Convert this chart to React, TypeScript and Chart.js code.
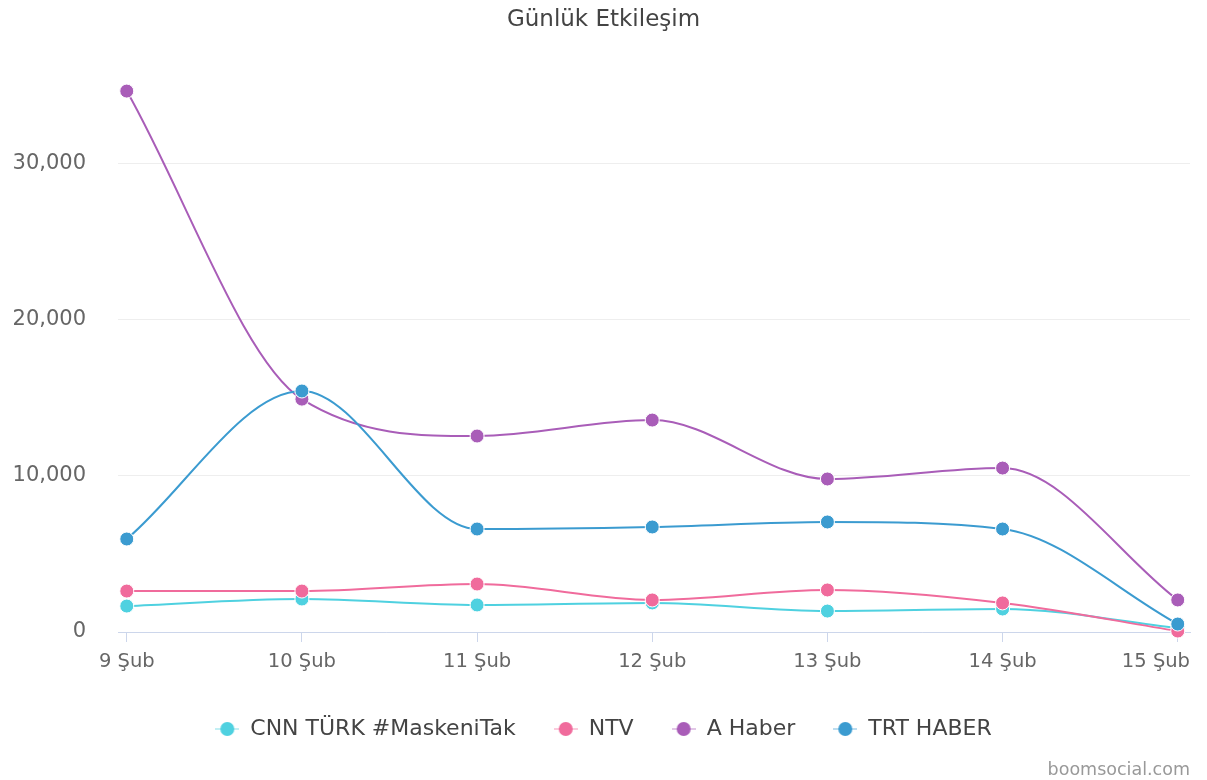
import React, { useEffect, useRef } from "react";
import { Chart, registerables } from "chart.js";

Chart.register(...registerables);

const categories = ["9 Şub", "10 Şub", "11 Şub", "12 Şub", "13 Şub", "14 Şub", "15 Şub"];
const seriesNames = ["CNN TÜRK #MaskeniTak", "NTV", "A Haber", "TRT HABER"];
const cnnTurk = [1660, 2110, 1730, 1860, 1340, 1470, 250];
const ntv = [2620, 2620, 3070, 2050, 2690, 1860, 60];
const aHaber = [34610, 14900, 12540, 13560, 9790, 10490, 2050];
const trtHaber = [5950, 15420, 6590, 6720, 7040, 6590, 510];
const yTicks = [0, 10000, 20000, 30000];
const seriesColors = ["#4fd1e0", "#f06b9c", "#a95db8", "#3b9bd0"];
const title = "Günlük Etkileşim";
const credit = "boomsocial.com";

const FONT = '"DejaVu Sans", sans-serif';

function makeLegendSymbol(color: string): HTMLCanvasElement {
  const c = document.createElement("canvas");
  c.width = 24;
  c.height = 16;
  const ctx = c.getContext("2d")!;
  ctx.strokeStyle = color;
  ctx.globalAlpha = 0.35;
  ctx.lineWidth = 2;
  ctx.beginPath();
  ctx.moveTo(0, 8);
  ctx.lineTo(24, 8);
  ctx.stroke();
  ctx.globalAlpha = 1;
  ctx.fillStyle = color;
  ctx.beginPath();
  ctx.arc(12, 8, 7, 0, Math.PI * 2);
  ctx.fill();
  return c;
}

export default function App() {
  const canvasRef = useRef<HTMLCanvasElement | null>(null);

  useEffect(() => {
    const canvas = canvasRef.current;
    if (!canvas) return;
    const allValues = [cnnTurk, ntv, aHaber, trtHaber];
    const drawOrder = [3, 2, 1, 0];
    const symbols = seriesColors.map((c) => makeLegendSymbol(c));

    const datasets = allValues.map((vals, si) => ({
      label: seriesNames[si],
      data: vals.map((v, i) => ({ x: i, y: v })),
      borderColor: seriesColors[si],
      backgroundColor: seriesColors[si],
      pointBackgroundColor: seriesColors[si],
      pointBorderColor: "#ffffff",
      pointBorderWidth: 1,
      pointRadius: 7,
      borderWidth: 2,
      cubicInterpolationMode: "monotone",
      fill: false,
      clip: false as any,
      order: drawOrder[si],
    }));

    const xLabelsPlugin = {
      id: "xLabels",
      afterDraw(chart: any) {
        const ctx = chart.ctx;
        const xs = chart.scales.x;
        const area = chart.chartArea;
        ctx.save();
        ctx.font = `19.5px ${FONT}`;
        ctx.fillStyle = "#666666";
        ctx.textAlign = "left";
        ctx.textBaseline = "middle";
        categories.forEach((lab, i) => {
          const px = xs.getPixelForValue(i);
          const w = ctx.measureText(lab).width;
          let x = px - w / 2;
          if (x + w > area.right) x = area.right - w;
          if (x < 0) x = 0;
          ctx.fillText(lab, x, xs.top + 30);
        });
        ctx.font = `17.5px ${FONT}`;
        ctx.fillStyle = "#999999";
        ctx.textAlign = "right";
        ctx.textBaseline = "middle";
        ctx.fillText(credit, area.right, chart.height - 10);
        ctx.restore();
      },
    };

    const chart = new Chart(canvas, {
      type: "line",
      data: { datasets: datasets as any },
      plugins: [xLabelsPlugin],
      options: {
        responsive: false,
        animation: false,
        layout: { padding: { left: 0, right: 0, top: 0, bottom: 30 } },
        plugins: {
          title: {
            display: true,
            text: title,
            color: "#444444",
            font: { family: FONT, size: 23, weight: "normal" },
            padding: { top: 6, bottom: 51.4 },
          },
          legend: {
            display: true,
            position: "bottom",
            labels: {
              usePointStyle: true,
              pointStyleWidth: 24,
              boxHeight: 16,
              padding: 38,
              color: "#444444",
              font: { family: FONT, size: 22 },
              sort: (a: any, b: any) => a.datasetIndex - b.datasetIndex,
              generateLabels: (ch: any) => {
                const base = Chart.defaults.plugins.legend.labels.generateLabels(ch);
                return base.map((item: any) => ({
                  ...item,
                  pointStyle: symbols[item.datasetIndex],
                  lineWidth: 0,
                }));
              },
            },
          },
          tooltip: { enabled: false },
        },
        scales: {
          x: {
            type: "linear",
            min: -0.05,
            max: 6.07,
            afterBuildTicks: (axis: any) => {
              axis.ticks = categories.map((_, i) => ({ value: i }));
            },
            afterFit: (axis: any) => {
              axis.height = 48;
              axis.paddingLeft = 0;
              axis.paddingRight = 17;
            },
            grid: {
              drawOnChartArea: false,
              drawTicks: true,
              tickLength: 10,
              color: "#ccd6eb",
              lineWidth: 1,
            },
            border: { display: true, color: "#ccd6eb", width: 1 },
            ticks: { display: false },
          },
          y: {
            type: "linear",
            min: 0,
            max: 35000,
            afterBuildTicks: (axis: any) => {
              axis.ticks = yTicks.map((v) => ({ value: v }));
            },
            afterFit: (axis: any) => {
              axis.width = 118;
              axis.paddingTop = 0;
              axis.paddingBottom = 0;
            },
            grid: { color: "#eeeeee", lineWidth: 1, drawTicks: false },
            border: { display: false },
            ticks: {
              padding: 32,
              color: "#666666",
              font: { family: FONT, size: 21 },
              callback: (v: any) => Number(v).toLocaleString("en-US"),
            },
          },
        },
      },
    });

    return () => chart.destroy();
  }, []);

  return (
    <div style={{ position: "absolute", left: 0, top: 0, width: 1207, height: 780, background: "#ffffff" }}>
      <canvas ref={canvasRef} width={1207} height={780} style={{ display: "block" }} />
    </div>
  );
}
